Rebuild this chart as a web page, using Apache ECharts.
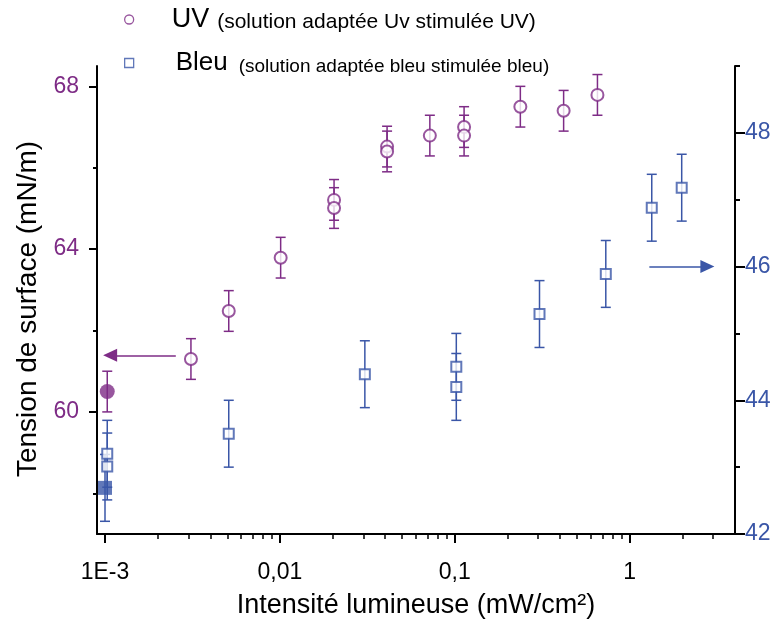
<!DOCTYPE html>
<html><head><meta charset="utf-8">
<script src="https://cdn.jsdelivr.net/npm/echarts@6/dist/echarts.min.js"></script>
<style>html,body{margin:0;padding:0;background:#fff}#c{width:771px;height:619px}</style>
</head><body><div id="c"></div>
<script>
// ---- tick values / labels ----
const xTickValues = [0.001, 0.01, 0.1, 1];
const xTickLabels = ['1E-3', '0,01', '0,1', '1'];
const xMinorTicks = [0.002,0.003,0.004,0.005,0.006,0.007,0.008,0.009,
                     0.02,0.03,0.04,0.05,0.06,0.07,0.08,0.09,
                     0.2,0.3,0.4,0.5,0.6,0.7,0.8,0.9,2,3];
const leftMajor = [60, 64, 68];
const leftMinor = [58, 62, 66];
const rightMajor = [42, 44, 46, 48];
const rightMinor = [43, 45, 47, 49];

// ---- UV series (left axis) ----
const uvX   = [0.0031, 0.0051, 0.0101, 0.0204, 0.0204, 0.041, 0.041, 0.072, 0.113, 0.113, 0.237, 0.419, 0.654];
const uvY   = [61.30, 62.48, 63.79, 65.21, 65.01, 66.52, 66.40, 66.79, 67.00, 66.79, 67.50, 67.40, 67.79];
const uvErr = [0.5, 0.5, 0.5, 0.5, 0.5, 0.5, 0.5, 0.5, 0.5, 0.5, 0.5, 0.5, 0.5];
const uvFilledX = [0.00103];
const uvFilledY = [60.50];
const uvFilledErr = [0.5];

// ---- Bleu series (right axis) ----
const bleuX   = [0.00103, 0.00103, 0.0051, 0.0306, 0.102, 0.102, 0.305, 0.730, 1.337, 1.983];
const bleuY   = [43.20, 43.01, 43.50, 44.39, 44.50, 44.20, 45.29, 45.89, 46.88, 47.18];
const bleuErr = [0.5, 0.5, 0.5, 0.5, 0.5, 0.5, 0.5, 0.5, 0.5, 0.5];
const bleuFilledX = [0.001];
const bleuFilledY = [42.69];
const bleuFilledErr = [0.5];

// ---- annotation arrows (data coordinates) ----
const uvArrowFrom = [0.00254, 61.39], uvArrowTo = [0.00107, 61.39];
const bleuArrowFrom = [1.295, 46.0], bleuArrowTo = [2.78, 46.0];

const PURPLE = '#7E2C86';
const BLUE = '#3A56A7';
const FONT = 'Liberation Sans, Arial, sans-serif';

const zip3 = (a, b, c) => a.map((v, i) => [v, b[i], c[i]]);
const zip2 = (a, b) => a.map((v, i) => [v, b[i]]);

function errRender(color) {
  return function (params, api) {
    const x = api.value(0), y = api.value(1), e = api.value(2);
    const hi = api.coord([x, y + e]), lo = api.coord([x, y - e]);
    const hw = 5;
    const style = { stroke: color, lineWidth: 1.5 };
    return { type: 'group', children: [
      { type: 'line', shape: { x1: hi[0], y1: hi[1], x2: lo[0], y2: lo[1] }, style },
      { type: 'line', shape: { x1: hi[0] - hw, y1: hi[1], x2: hi[0] + hw, y2: hi[1] }, style },
      { type: 'line', shape: { x1: lo[0] - hw, y1: lo[1], x2: lo[0] + hw, y2: lo[1] }, style }
    ]};
  };
}

function xLabel(v) {
  const i = xTickValues.findIndex(t => Math.abs(Math.log10(t) - Math.log10(v)) < 1e-6);
  return i >= 0 ? xTickLabels[i] : '';
}

const chart = echarts.init(document.getElementById('c'), null, { renderer: 'canvas' });
const option = {
  animation: false,
  backgroundColor: '#fff',
  textStyle: { fontFamily: FONT },
  grid: { left: 97, right: 36, top: 66, bottom: 85, containLabel: false, outerBoundsMode: 'none' },
  legend: {
    orient: 'vertical', left: 124, top: 6, padding: 0, itemGap: 17,
    itemWidth: 9, itemHeight: 9, selectedMode: false,
    data: [
      { name: 'UV', icon: 'circle', itemStyle: { color: '#fff', borderColor: PURPLE, borderWidth: 1.3 } },
      { name: 'Bleu', icon: 'rect', itemStyle: { color: '#fff', borderColor: BLUE, borderWidth: 1.3 } }
    ],
    formatter: function (name) {
      return name === 'UV'
        ? '{sp1|}{big|UV}{g1|}{small|(solution adaptée Uv stimulée UV)}'
        : '{sp2|}{big2|Bleu}{g2|}{small2|(solution adaptée bleu stimulée bleu)}';
    },
    textStyle: {
      color: '#000', fontFamily: FONT,
      rich: {
        sp1: { width: 33 }, sp2: { width: 37 },
        g1: { width: 8 }, g2: { width: 11 },
        big: { fontSize: 27, fontFamily: FONT, color: '#000', verticalAlign: 'bottom' },
        big2: { fontSize: 26, fontFamily: FONT, color: '#000', verticalAlign: 'bottom' },
        small: { fontSize: 21, fontFamily: FONT, color: '#000', verticalAlign: 'bottom' },
        small2: { fontSize: 19, fontFamily: FONT, color: '#000', verticalAlign: 'bottom' }
      }
    }
  },
  xAxis: [
    {
      type: 'log', logBase: 10, min: 0.0009, max: 4, position: 'bottom',
      name: 'Intensité lumineuse (mW/cm²)', nameLocation: 'middle', nameGap: 58,
      nameTextStyle: { fontSize: 27, color: '#000', fontFamily: FONT },
      axisLine: { show: true, lineStyle: { color: '#000', width: 2 } },
      axisTick: { show: true, customValues: xTickValues, length: 9, lineStyle: { color: '#000', width: 2 } },
      axisLabel: { show: true, customValues: xTickValues, formatter: xLabel, fontSize: 23, color: '#000', margin: 27, fontFamily: FONT },
      splitLine: { show: false }, minorTick: { show: false }
    },
    {
      type: 'log', logBase: 10, min: 0.0009, max: 4, position: 'bottom',
      axisLine: { show: false },
      axisTick: { show: true, customValues: xMinorTicks, length: 5, lineStyle: { color: '#000', width: 1.5 } },
      axisLabel: { show: false }, splitLine: { show: false }
    }
  ],
  yAxis: [
    {
      type: 'value', min: 57, max: 68.5, position: 'left',
      name: 'Tension de surface (mN/m)', nameLocation: 'middle', nameGap: 55, nameRotate: 90,
      nameTextStyle: { fontSize: 28, color: '#000', fontFamily: FONT, padding: [0, 18, 0, 0] },
      axisLine: { show: true, lineStyle: { color: '#000', width: 2 } },
      axisTick: { show: true, customValues: leftMajor, length: 8, lineStyle: { color: '#000', width: 2 } },
      axisLabel: { show: true, customValues: leftMajor, fontSize: 23, color: PURPLE, margin: 18, fontFamily: FONT },
      splitLine: { show: false }
    },
    {
      type: 'value', min: 42, max: 49, position: 'right',
      axisLine: { show: true, lineStyle: { color: '#000', width: 2 } },
      axisTick: { show: true, customValues: rightMajor, length: 10, lineStyle: { color: '#000', width: 2 } },
      axisLabel: { show: true, customValues: rightMajor, fontSize: 23, color: BLUE, margin: 10, fontFamily: FONT },
      splitLine: { show: false }
    },
    {
      type: 'value', min: 57, max: 68.5, position: 'left',
      axisLine: { show: false },
      axisTick: { show: true, customValues: leftMinor, length: 4, lineStyle: { color: '#000', width: 2 } },
      axisLabel: { show: false }, splitLine: { show: false }
    },
    {
      type: 'value', min: 42, max: 49, position: 'right',
      axisLine: { show: false },
      axisTick: { show: true, customValues: rightMinor, length: 5, lineStyle: { color: '#000', width: 2 } },
      axisLabel: { show: false }, splitLine: { show: false }
    }
  ],
  series: [
    {
      type: 'custom', name: 'uvErr', xAxisIndex: 0, yAxisIndex: 0, silent: true, z: 2,
      renderItem: errRender(PURPLE), encode: { x: 0, y: 1 },
      data: zip3(uvX, uvY, uvErr).concat(zip3(uvFilledX, uvFilledY, uvFilledErr))
    },
    {
      type: 'custom', name: 'bleuErr', xAxisIndex: 0, yAxisIndex: 1, silent: true, z: 2,
      renderItem: errRender(BLUE), encode: { x: 0, y: 1 },
      data: zip3(bleuX, bleuY, bleuErr).concat(zip3(bleuFilledX, bleuFilledY, bleuFilledErr))
    },
    {
      type: 'scatter', name: 'UV', xAxisIndex: 0, yAxisIndex: 0, z: 3,
      symbol: 'emptyCircle', symbolSize: 12,
      itemStyle: { color: PURPLE, borderColor: PURPLE, borderWidth: 1.5 },
      data: zip2(uvX, uvY),
      markLine: {
        silent: true, animation: false, label: { show: false },
        lineStyle: { color: PURPLE, width: 1.5, type: 'solid' },
        symbol: ['none', 'triangle'], symbolSize: [13, 14],
        data: [[{ coord: uvArrowFrom }, { coord: uvArrowTo }]]
      }
    },
    {
      type: 'scatter', name: 'UV', xAxisIndex: 0, yAxisIndex: 0, z: 3,
      symbol: 'circle', symbolSize: 15,
      itemStyle: { color: PURPLE },
      data: zip2(uvFilledX, uvFilledY)
    },
    {
      type: 'scatter', name: 'Bleu', xAxisIndex: 0, yAxisIndex: 1, z: 3,
      symbol: 'emptyRect', symbolSize: 10,
      itemStyle: { color: BLUE, borderColor: BLUE, borderWidth: 1.5 },
      data: zip2(bleuX, bleuY),
      markLine: {
        silent: true, animation: false, label: { show: false },
        lineStyle: { color: BLUE, width: 1.5, type: 'solid' },
        symbol: ['none', 'triangle'], symbolSize: [13, 14],
        data: [[{ coord: bleuArrowFrom }, { coord: bleuArrowTo }]]
      }
    },
    {
      type: 'scatter', name: 'Bleu', xAxisIndex: 0, yAxisIndex: 1, z: 4,
      symbol: 'rect', symbolSize: 14,
      itemStyle: { color: BLUE },
      data: zip2(bleuFilledX, bleuFilledY)
    }
  ]
};
chart.setOption(option);
</script></body></html>
